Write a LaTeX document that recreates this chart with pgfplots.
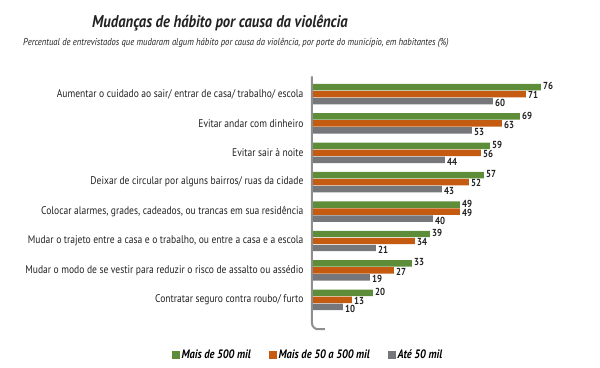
\documentclass[border=0pt]{standalone}
\usepackage{pgfplots}
\pgfplotsset{compat=1.18}
\usepackage{fontspec}
\setmainfont{PT Sans}[FakeStretch=0.86]
\definecolor{cgreen}{HTML}{5E8D3A}
\definecolor{corange}{HTML}{C55A11}
\definecolor{cgray}{HTML}{76777A}
\definecolor{caxis}{HTML}{8E8E8E}
\definecolor{ctext}{HTML}{222222}
\begin{document}
\begin{tikzpicture}[x=1pt,y=1pt]
\path[use as bounding box] (0,0) rectangle (600,367);
\node[font=\fontsize{17}{20}\selectfont\bfseries\itshape, text=ctext] at (220,344) {Mudanças de hábito por causa da violência};
\node[font=\fontsize{10}{12}\selectfont\itshape, anchor=west, inner sep=0pt, text=ctext] at (23,324) {Percentual de entrevistados que mudaram algum hábito por causa da violência, por porte do município, em habitantes (\%)};
\begin{axis}[
  at={(313pt,290.6pt)}, anchor=north west,
  scale only axis, width=285pt, height=252.8pt,
  xmin=0, xmax=95, ymin=-0.6, ymax=8, y dir=reverse,
  xbar, bar width=0.22,
  axis line style={draw=none},
  xtick=\empty,
  ytick={0,1,2,3,4,5,6,7},
  major tick length=0pt,
  yticklabels={
    {Aumentar o cuidado ao sair/ entrar de casa/ trabalho/ escola},
    {Evitar andar com dinheiro},
    {Evitar sair à noite},
    {Deixar de circular por alguns bairros/ ruas da cidade},
    {Colocar alarmes, grades, cadeados, ou trancas em sua residência},
    {Mudar o trajeto entre a casa e o trabalho, ou entre a casa e a escola},
    {Mudar o modo de se vestir para reduzir o risco de assalto ou assédio},
    {Contratar seguro contra roubo/ furto}},
  yticklabel style={font=\fontsize{11.1}{12}\selectfont, text=ctext, xshift=-6pt},
  /pgf/number format/assume math mode=true,
  nodes near coords,
  nodes near coords style={anchor=west, font=\fontsize{10.2}{11}\selectfont\bfseries, text=ctext, inner xsep=2pt, inner ysep=0pt},
  clip=false,
  legend columns=3,
  legend style={at={(-0.018,-0.102)}, anchor=center, draw=none, fill=none,
    font=\fontsize{12.2}{14}\selectfont\bfseries\itshape,
    /tikz/every even column/.append style={column sep=16pt}},
  legend image code/.code={\fill[#1] (0pt,-4pt) rectangle (8pt,4pt);},
]
\addplot[fill=cgreen, draw=none, bar shift=-0.238, nodes near coords style={yshift=1pt}] coordinates {(76,0) (69,1) (59,2) (57,3) (49,4) (39,5) (33,6) (20,7)};
\addlegendentry{Mais de 500 mil}
\addplot[fill=corange, draw=none, bar shift=0, nodes near coords style={yshift=-1pt}] coordinates {(71,0) (63,1) (56,2) (52,3) (49,4) (34,5) (27,6) (13,7)};
\addlegendentry{Mais de 50 a 500 mil}
\addplot[fill=cgray, draw=none, bar shift=0.238, nodes near coords style={yshift=-2pt}] coordinates {(60,0) (53,1) (44,2) (43,3) (40,4) (21,5) (19,6) (10,7)};
\addlegendentry{Até 50 mil}
\draw[caxis, line width=2pt, rounded corners=6pt] ([xshift=-1pt]axis cs:0,-0.6) -- ([xshift=-1pt]axis cs:0,8) -- (axis cs:4,8);
\end{axis}
\end{tikzpicture}
\end{document}
